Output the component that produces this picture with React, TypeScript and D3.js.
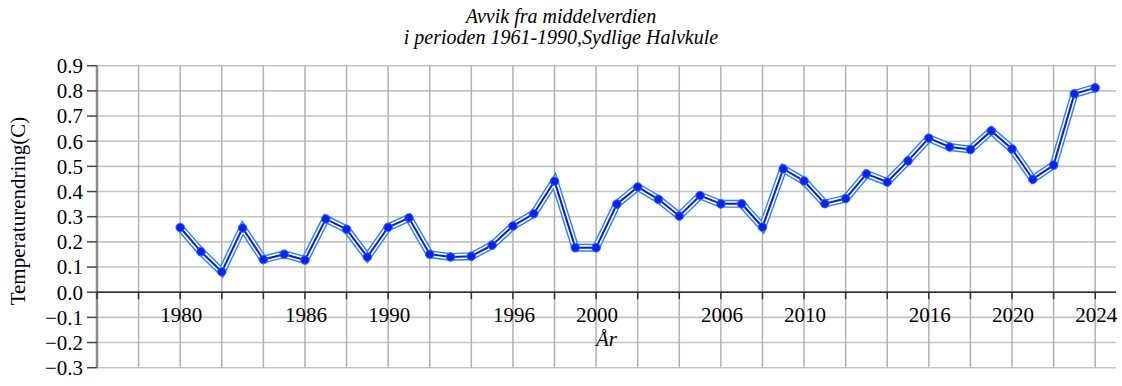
import * as d3 from 'd3';

const years = d3.range(1980, 2025);
const anomaly = [
  0.257, 0.161, 0.081, 0.255, 0.13, 0.151, 0.128, 0.291, 0.25, 0.14,
  0.258, 0.295, 0.151, 0.14, 0.143, 0.187, 0.263, 0.312, 0.441, 0.177,
  0.177, 0.35, 0.418, 0.369, 0.303, 0.384, 0.351, 0.351, 0.259, 0.49,
  0.442, 0.352, 0.372, 0.47, 0.438, 0.522, 0.612, 0.577, 0.567, 0.641,
  0.569, 0.449, 0.505, 0.788, 0.812,
];
const xTickLabels = [1980, 1986, 1990, 1996, 2000, 2006, 2010, 2016, 2020, 2024];
const yTicks = [-0.3, -0.2, -0.1, 0, 0.1, 0.2, 0.3, 0.4, 0.5, 0.6, 0.7, 0.8, 0.9];
const titleLines = ['Avvik fra middelverdien', 'i perioden 1961-1990,Sydlige Halvkule'];

const W = 1122;
const H = 386;
const font = "'Liberation Serif', 'Times New Roman', serif";

export default function App() {
  const x = d3.scaleLinear().domain([1976, 2025]).range([97, 1116]);
  const y = d3.scaleLinear().domain([-0.3, 0.9]).range([367.7, 65.7]);
  const points: [number, number][] = years.map((yr, i) => [yr, anomaly[i]]);
  const line = d3
    .line<[number, number]>()
    .x((d) => x(d[0]))
    .y((d) => y(d[1]));
  const path = line(points) ?? '';
  const gridYears = d3.range(1976, 2025, 2);
  const left = x(1976);
  const right = x(2025);
  const tf = { fontFamily: font };

  return (
    <div style={{ position: 'fixed', left: 0, top: 0 }}>
      <svg width={W} height={H} style={{ display: 'block', background: '#fff', fontFamily: font }}>
        {titleLines.map((t, i) => (
          <text key={t} x={W / 2} y={23 + i * 21} textAnchor="middle" fontSize={20} fontStyle="italic" style={tf}>
            {t}
          </text>
        ))}

        {/* grid */}
        {yTicks.map((v) => (
          <line key={'h' + v} x1={left} x2={right} y1={y(v)} y2={y(v)} stroke="#c4c4c4" strokeWidth={1.6} />
        ))}
        {gridYears.map((yr) => (
          <line key={'v' + yr} x1={x(yr)} x2={x(yr)} y1={y(0.9)} y2={y(-0.3)} stroke="#b2b2b2" strokeWidth={1.5} />
        ))}

        {/* y axis */}
        <line x1={left} x2={left} y1={y(0.9)} y2={y(-0.3)} stroke="#8a8a8a" strokeWidth={2.5} />
        {yTicks.map((v) => (
          <g key={'yt' + v}>
            <line x1={left - 10} x2={left} y1={y(v)} y2={y(v)} stroke="#444" strokeWidth={1.5} />
            <text x={83} y={y(v)} dy="0.35em" textAnchor="end" fontSize={21} style={tf}>
              {v < 0 ? '\u2212' + Math.abs(v).toFixed(1) : v.toFixed(1)}
            </text>
          </g>
        ))}

        {/* x axis at zero */}
        <line x1={left} x2={right} y1={y(0)} y2={y(0)} stroke="#000" strokeWidth={1.2} />
        {gridYears.map((yr) => (
          <line key={'xt' + yr} x1={x(yr)} x2={x(yr)} y1={y(0)} y2={y(0) + 7} stroke="#333" strokeWidth={1.5} />
        ))}
        {xTickLabels.map((yr) => (
          <text key={'xl' + yr} x={x(yr) + 1} y={322} textAnchor="middle" fontSize={21} style={tf}>
            {yr}
          </text>
        ))}

        <text x={(left + right) / 2} y={346} textAnchor="middle" fontSize={21} fontStyle="italic" style={tf}>
          År
        </text>
        <text transform="translate(25,211) rotate(-90)" textAnchor="middle" fontSize={21} style={tf}>
          Temperaturendring(C)
        </text>

        {/* series: double line */}
        <path d={path} fill="none" stroke="#1a8ae8" strokeWidth={8} strokeLinejoin="miter" />
        <path d={path} fill="none" stroke="#fff" strokeWidth={5.2} strokeLinejoin="miter" />
        <path d={path} fill="none" stroke="#1010ff" strokeWidth={2} strokeLinejoin="miter" />
        {points.map((d) => (
          <circle key={d[0]} cx={x(d[0])} cy={y(d[1])} r={4.3} fill="#0a1eff" stroke="#2a6cff" strokeWidth={1} />
        ))}
      </svg>
    </div>
  );
}
